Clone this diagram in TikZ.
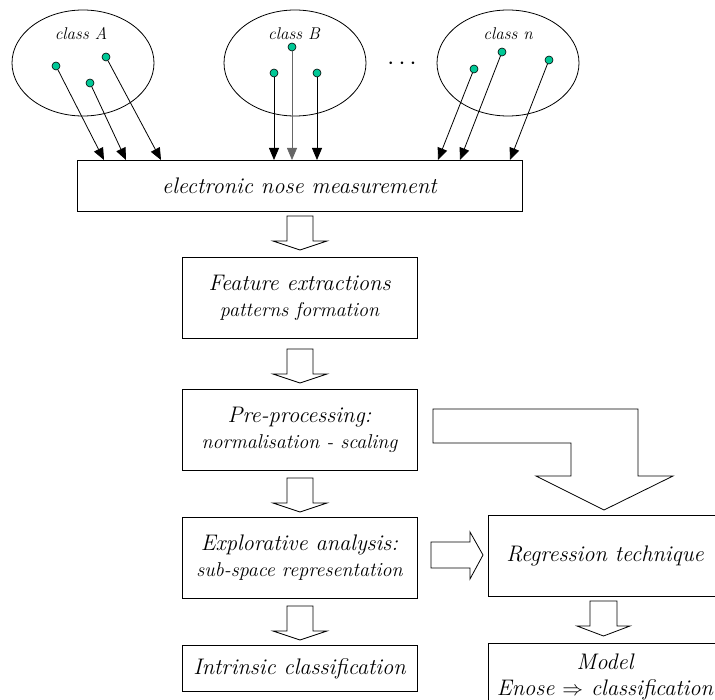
\documentclass[tikz,border=0pt]{standalone}
\usetikzlibrary{arrows.meta,shapes.geometric}
\definecolor{vertpastille}{RGB}{0,200,150}
\tikzset{
	etape/.style={draw, line width=0.9pt, minimum width=235pt, minimum height=81pt, align=center, font=\itshape\fontsize{22.5}{26}\selectfont},
	classe/.style={draw, ellipse, line width=0.8pt, minimum width=142pt, minimum height=106pt},
	pastille/.style={circle, draw, line width=0.6pt, fill=vertpastille, inner sep=0pt, minimum size=8pt},
	fleche/.style={-{Triangle[length=12pt,width=10pt]}, line width=0.8pt},
	grosse/.style={draw, line width=0.8pt, fill=white}
}
\begin{document}
\begin{tikzpicture}[x=1pt, y=-1pt]
		\clip (0,0) rectangle (715,700);
		% les classes
		\node[classe] (cA) at (83,63) {};
		\node[classe] (cB) at (295,63) {};
		\node[classe] (cn) at (508,63) {};
		\node[font=\itshape\fontsize{17}{20}\selectfont] (lA) at (81,34) {class A};
		\node[font=\itshape\fontsize{17}{20}\selectfont] (lB) at (294,34) {class B};
		\node[font=\itshape\fontsize{17}{20}\selectfont] (ln) at (508,34) {class n};
		\node[font=\fontsize{24}{26}\selectfont] (pts) at (402,64) {$\cdots$};

		\node[pastille] (a1) at (56,66) {};
		\node[pastille] (a2) at (90,83) {};
		\node[pastille] (a3) at (106,57) {};
		\node[pastille] (b1) at (274,73) {};
		\node[pastille] (b2) at (292,47) {};
		\node[pastille] (b3) at (317,73) {};
		\node[pastille] (n1) at (474,69) {};
		\node[pastille] (n2) at (502,52) {};
		\node[pastille] (n3) at (549,60) {};

		% la mesure
		\node[etape, minimum width=445pt, minimum height=51pt] (mesure) at (299.5,185.5) {electronic nose measurement};
		\coordinate (ta1) at (104,160);
		\coordinate (ta2) at (126,160);
		\coordinate (ta3) at (161,160);
		\coordinate (tb1) at (274,160);
		\coordinate (tb2) at (292,160);
		\coordinate (tb3) at (317,160);
		\coordinate (tn1) at (438,160);
		\coordinate (tn2) at (460,160);
		\coordinate (tn3) at (510,160);
		\foreach \p in {a1,a2,a3,b1,b3,n1,n2,n3}
			\draw[fleche] (\p) -- (t\p);
		\draw[fleche, draw=black!60] (b2) -- (tb2);

		% la chaine de traitement
		\node[etape] (feature) at (299.5,298) {Feature extractions\\{\fontsize{20}{24}\selectfont patterns formation}};
		\node[etape] (pretrait) at (299.5,429.5) {Pre-processing:\\{\fontsize{20}{24}\selectfont normalisation - scaling}};
		\node[etape] (explo) at (299.5,557.5) {Explorative analysis:\\{\fontsize{20}{24}\selectfont sub-space representation}};
		\node[etape, minimum height=46pt] (intrin) at (299.5,668.5) {Intrinsic classification};
		\node[etape, minimum width=234pt] (regr) at (605,555.5) {Regression technique};
		\node[etape, minimum width=234pt, minimum height=68pt] (modele) at (605,677) {Model\\Enose $\Rightarrow$ classification};

		% grosses fleches
		\foreach \y in {216,349,478,606}
			\draw[grosse] (287,\y) -- (313,\y) -- (313,\y+25) -- (327,\y+25) -- (300,\y+34) -- (273,\y+25) -- (287,\y+25) -- cycle;
		\draw[grosse] (590,601) -- (617,601) -- (617,626) -- (630,626) -- (603.5,636) -- (577,626) -- (590,626) -- cycle;
		\draw[grosse] (431,542) -- (470,542) -- (470,532) -- (483,555) -- (470,579) -- (470,568) -- (431,568) -- cycle;
		\draw[grosse] (433,409) -- (638,409) -- (638,476) -- (673,476) -- (604,510) -- (536,476) -- (571,476) -- (571,443) -- (433,443) -- cycle;
	\end{tikzpicture}
\end{document}
